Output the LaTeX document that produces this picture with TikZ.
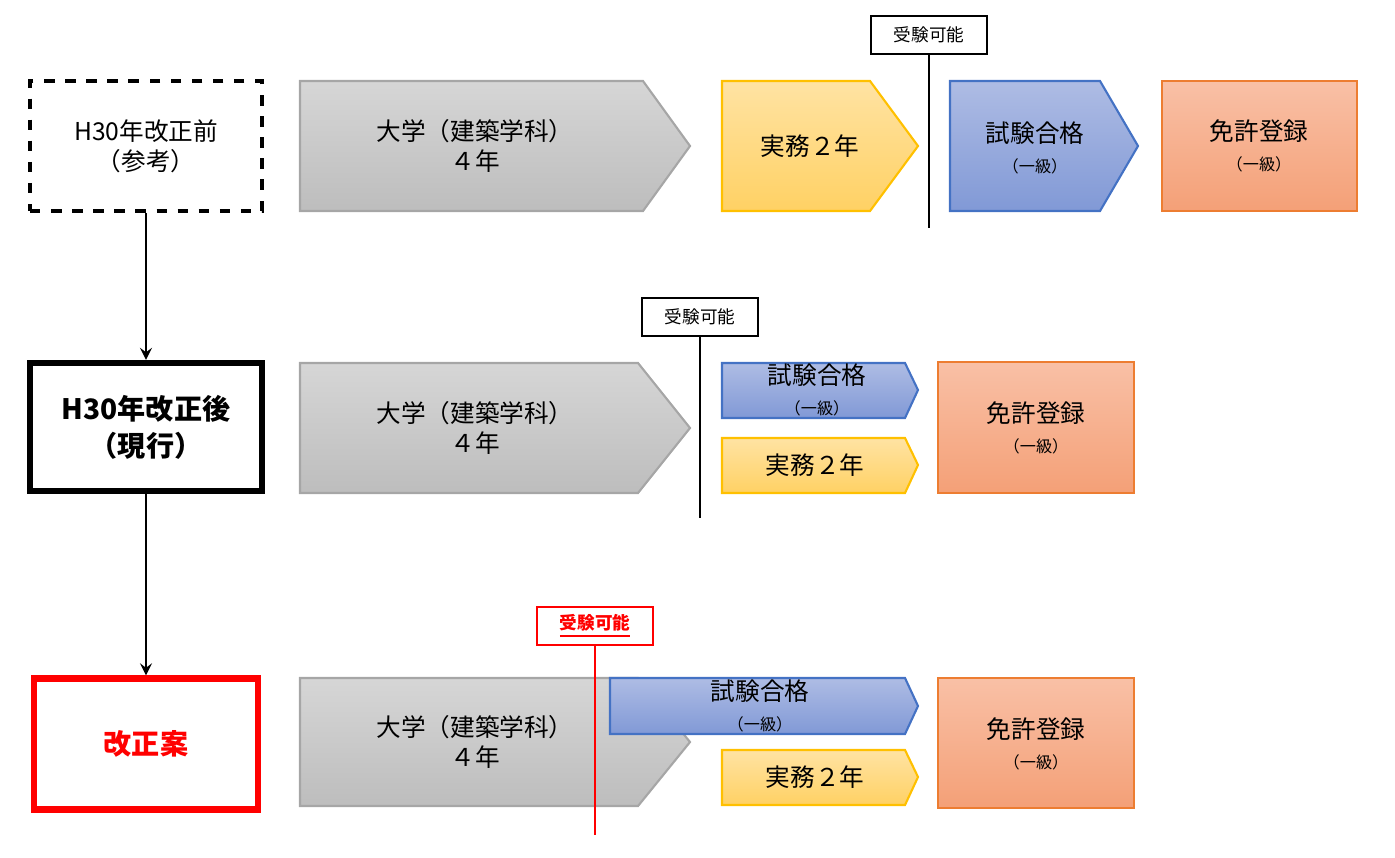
\documentclass[tikz,border=0pt]{standalone}
\usepackage{fontspec}
\setmainfont{Noto Sans CJK JP}
\begin{document}
\begin{tikzpicture}[x=0.01cm,y=-0.01cm,
 big/.style={font=\fontsize{7}{8.5}\selectfont},
 lab/.style={draw,line width=0.4pt,minimum width=1.16cm,minimum height=0.38cm,inner sep=0,font=\fontsize{5}{6}\selectfont,fill=white},
 arr/.style={->,>=stealth,line width=0.5pt}]
\definecolor{gA}{HTML}{D6D6D6}\definecolor{gB}{HTML}{BDBDBD}\definecolor{gL}{HTML}{A6A6A6}
\definecolor{yA}{HTML}{FFE3A3}\definecolor{yB}{HTML}{FFD164}\definecolor{yL}{HTML}{FFC000}
\definecolor{bA}{HTML}{AEBCE4}\definecolor{bB}{HTML}{8199D6}\definecolor{bL}{HTML}{4472C4}
\definecolor{oA}{HTML}{F9C0A6}\definecolor{oB}{HTML}{F4A077}\definecolor{oL}{HTML}{ED7D31}
\tikzset{
 gs/.style={draw=gL,top color=gA,bottom color=gB,line width=0.6pt},
 ys/.style={draw=yL,top color=yA,bottom color=yB,line width=0.6pt},
 bs/.style={draw=bL,top color=bA,bottom color=bB,line width=0.6pt},
 os/.style={draw=oL,top color=oA,bottom color=oB,line width=0.6pt}}
\newcommand{\twol}[2]{{\fontsize{7}{8.5}\selectfont #1}\\[-3.5pt]{\fontsize{4.6}{5.5}\selectfont #2}}
\useasboundingbox (0,0) rectangle (1395,857);
% row 1
\node[draw,dashed,line width=1.3pt,minimum width=2.32cm,minimum height=1.30cm,inner sep=0,big,align=center] (b1) at (146,146) {H30年改正前\\（参考）};
\draw[gs] (300,81)--(643,81)--(690,146)--(643,211)--(300,211)--cycle;
\node[big,align=center] (g1) at (475,146) {大学（建築学科）\\４年};
\draw[ys] (722,81)--(870,81)--(918,146)--(870,211)--(722,211)--cycle;
\node[big] (y1) at (810,146) {実務２年};
\draw[bs] (950,81)--(1100,81)--(1138,146)--(1100,211)--(950,211)--cycle;
\node[align=center,inner sep=0] (t1) at (1035,148) {\twol{試験合格}{（一級）}};
\draw[os] (1162,81) rectangle (1357,211);
\node[align=center,inner sep=0] (m1) at (1259,146) {\twol{免許登録}{（一級）}};
\node[lab] (l1) at (929,35) {受験可能};
\coordinate (e1) at (929,228);
\draw[line width=0.5pt] (l1.south) -- (e1);
% row 2
\node[draw,line width=1.8pt,minimum width=2.32cm,minimum height=1.28cm,inner sep=0,align=center,font=\fontsize{8}{10.5}\selectfont\bfseries] (b2) at (146,427) {H30年改正後\\（現行）};
\draw[gs] (300,363)--(638,363)--(690,428)--(638,493)--(300,493)--cycle;
\node[big,align=center] (g2) at (475,428) {大学（建築学科）\\４年};
\draw[bs] (722,363)--(905,363)--(918,390)--(905,418)--(722,418)--cycle;
\node[align=center,inner sep=0] (t2) at (817,390) {\twol{試験合格}{（一級）}};
\draw[ys] (722,438)--(905,438)--(918,465)--(905,493)--(722,493)--cycle;
\node[big] (y2) at (815,465) {実務２年};
\draw[os] (938,362) rectangle (1134,493);
\node[align=center,inner sep=0] (m2) at (1036,428) {\twol{免許登録}{（一級）}};
\node[lab] (l2) at (700,317) {受験可能};
\coordinate (e2) at (700,518);
\draw[line width=0.5pt] (l2.south) -- (e2);
% row 3
\node[draw=red,line width=1.8pt,minimum width=2.24cm,minimum height=1.31cm,inner sep=0,text=red,font=\fontsize{8}{10}\selectfont\bfseries] (b3) at (146,744) {改正案};
\draw[gs] (300,678)--(638,678)--(690,742)--(638,806)--(300,806)--cycle;
\node[big,align=center] (g3) at (475,742) {大学（建築学科）\\４年};
\draw[bs] (610,678)--(905,678)--(918,706)--(905,734)--(610,734)--cycle;
\node[align=center,inner sep=0] (t3) at (760,706) {\twol{試験合格}{（一級）}};
\draw[ys] (722,750)--(905,750)--(918,777)--(905,805)--(722,805)--cycle;
\node[big] (y3) at (815,777) {実務２年};
\draw[os] (938,678) rectangle (1134,808);
\node[align=center,inner sep=0] (m3) at (1036,744) {\twol{免許登録}{（一級）}};
\node[lab,draw=red,text=red,font=\fontsize{5}{6}\selectfont\bfseries] (l3) at (595,626) {\underline{受験可能}};
\coordinate (e3) at (595,835);
\draw[red,line width=0.6pt] (l3.south) -- (e3);
% arrows
\draw[arr] (b1.south) -- (b2.north);
\draw[arr] (b2.south) -- (b3.north);
\end{tikzpicture}
\end{document}
